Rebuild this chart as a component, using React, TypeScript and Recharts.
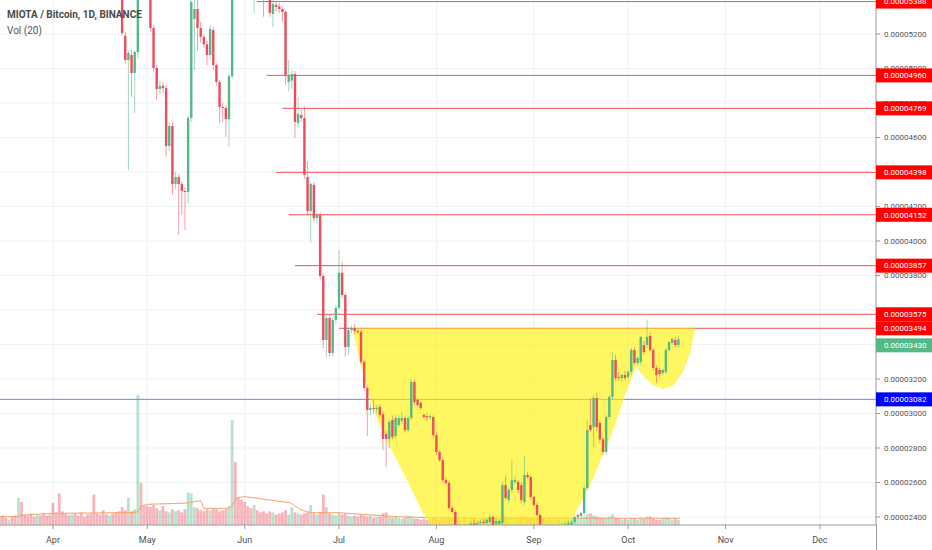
import React from "react";
import {
  ComposedChart,
  Bar,
  Area,
  Line,
  XAxis,
  YAxis,
  CartesianGrid,
  ReferenceLine,
} from "recharts";

// MIOTA / BTC daily, prices in satoshi (1e-8 BTC), day 0 = 1 Apr
const W = 932;
const H = 550;
const UP = "#53b987";
const DOWN = "#eb4d5c";

const DAY_MIN = -16.86;
const DAY_MAX = 261.85;
const PRICE_MIN = 2353.6;
const PRICE_MAX = 5397.1;

const monthTicks = [0, 30, 61, 91, 122, 153, 183, 214, 244];
const monthLabels = ["Apr", "May", "Jun", "Jul", "Aug", "Sep", "Oct", "Nov", "Dec"];
const priceTicks = [2400, 2600, 2800, 3000, 3200, 3400, 3600, 3800, 4000, 4200, 4400, 4600, 4800, 5000, 5200];

// candles from day 22 to day 199 (null = above the visible range)
const FIRST_CANDLE_DAY = 22;
const opens = [
  5430, 5190, 5049, 5078, 4974, 5096, null, null, null, 5450,
  5235, 5003, 4881, 4900, 4886, 4551, 4667, 4330, 4371, 4330,
  4290, 4284, 4713, 5287, 5345, 5235, 5183, 5140, 5078, 5223,
  5020, 4922, 4777, 4771, 4707, 4956, null, null, null, null,
  null, null, 5480, null, null, 5460, null, 5420, 5316, 5368,
  5360, 5345, 5328, 4922, 4930, 4968, 4684, 4730, 4713, 4371,
  4174, 4325, 4133, 4151, 3797, 3426, 3554, 3351, 3542, 3612,
  3815, 3687, 3386, 3484, 3496, 3478, 3473, 3299, 3148, 3020,
  3032, 3026, 3038, 2995, 2880, 2852, 2962, 2870, 2933, 2957,
  2974, 2904, 2974, 3183, 3078, 3061, 2991, 2985, 2978, 2980,
  2875, 2777, 2730, 2614, 2597, 2452, 2429, 2342, 2300, 2320,
  2310, 2335, 2362, 2350, 2365, 2371, 2365, 2371, 2400, 2360,
  2360, 2365, 2585, 2499, 2557, 2603, 2603, 2585, 2487, 2643,
  2632, 2516, 2470, 2412, 2342, 2290, 2310, 2285, 2300, 2320,
  2305, 2345, 2352, 2358, 2371, 2400, 2406, 2423, 2568, 2933,
  2922, 3090, 2945, 2850, 2777, 2980, 3096, 3310, 3212, 3206,
  3223, 3212, 3241, 3368, 3293, 3299, 3397, 3397, 3449, 3368,
  3264, 3252, 3235, 3241, 3368, 3409, 3426, 3397,
];
const highs = [
  5460, 5215, 5105, 5110, 5105, 5480, null, null, null, 5480,
  5250, 5020, 4930, 4920, 4905, 4690, 4690, 4400, 4390, 4345,
  4310, 4730, 5420, 5420, 5400, 5270, 5200, 5160, 5250, 5240,
  5030, 4935, 4800, 4785, 4970, 5450, null, null, null, null,
  null, null, 5550, null, null, 5490, null, 5440, 5397, 5390,
  5380, 5360, 5340, 5049, 4990, 4985, 4835, 4760, 4780, 4460,
  4345, 4340, 4165, 4165, 3810, 3570, 3570, 3560, 3630, 3948,
  3880, 3700, 3500, 3510, 3519, 3490, 3485, 3310, 3160, 3060,
  3080, 3050, 3050, 3010, 2900, 2965, 2990, 2990, 2990, 3010,
  2990, 2985, 3200, 3195, 3090, 3070, 3000, 3000, 2995, 2990,
  2890, 2790, 2745, 2630, 2610, 2465, 2440, 2360, 2340, 2345,
  2350, 2375, 2385, 2380, 2385, 2390, 2395, 2420, 2410, 2390,
  2385, 2600, 2640, 2570, 2730, 2640, 2615, 2600, 2750, 2660,
  2645, 2525, 2480, 2420, 2355, 2330, 2330, 2320, 2335, 2340,
  2365, 2370, 2380, 2380, 2410, 2420, 2430, 2580, 2960, 3090,
  3110, 3119, 2960, 2860, 2990, 3110, 3357, 3340, 3240, 3230,
  3250, 3250, 3380, 3385, 3330, 3450, 3420, 3545, 3470, 3380,
  3280, 3265, 3260, 3380, 3420, 3440, 3445, 3450,
];
const lows = [
  5190, 5030, 4412, 4835, 4742, 5060, null, null, null, 5215,
  4980, 4817, 4850, 4860, 4490, 4520, 4267, 4300, 4035, 4150,
  4064, 4220, 4690, 4990, 5100, 5150, 5120, 5020, 5050, 4990,
  4900, 4684, 4690, 4603, 4545, 4940, null, null, null, null,
  null, null, 5322, null, null, 5300, null, 5300, 5240, 5330,
  5320, 5270, 4904, 4870, 4880, 4597, 4660, 4690, 4360, 4150,
  3988, 4110, 4100, 3780, 3380, 3327, 3330, 3330, 3520, 3600,
  3670, 3330, 3340, 3465, 3460, 3460, 3285, 3130, 2870, 2990,
  3000, 3000, 2980, 2788, 2690, 2800, 2850, 2850, 2920, 2940,
  2890, 2890, 2960, 3050, 3040, 3020, 2970, 2960, 2965, 2860,
  2760, 2720, 2600, 2590, 2440, 2420, 2320, 2280, 2270, 2290,
  2290, 2320, 2340, 2330, 2350, 2355, 2350, 2360, 2330, 2340,
  2345, 2350, 2500, 2480, 2540, 2590, 2540, 2480, 2470, 2620,
  2505, 2460, 2400, 2330, 2270, 2270, 2260, 2270, 2285, 2290,
  2295, 2330, 2335, 2345, 2360, 2390, 2395, 2410, 2555, 2890,
  2806, 2900, 2830, 2759, 2760, 2965, 3080, 3190, 3190, 3180,
  3195, 3200, 3225, 3280, 3280, 3280, 3340, 3380, 3360, 3250,
  3177, 3215, 3220, 3230, 3355, 3400, 3385, 3380,
];
const closes = [
  5206, 5049, 5090, 4974, 5096, 5450, null, null, null, 5235,
  5003, 4881, 4900, 4886, 4551, 4667, 4330, 4371, 4330, 4290,
  4284, 4713, 5386, 5345, 5235, 5183, 5140, 5078, 5229, 5020,
  4922, 4777, 4771, 4707, 4956, 5420, null, null, null, null,
  null, null, 5500, null, null, 5410, null, 5322, 5374, 5357,
  5345, 5328, 4962, 4962, 4968, 4690, 4736, 4713, 4383, 4174,
  4330, 4133, 4151, 3797, 3426, 3554, 3351, 3542, 3612, 3815,
  3687, 3386, 3484, 3496, 3478, 3473, 3299, 3148, 3020, 3032,
  3026, 3032, 2991, 2852, 2852, 2951, 2864, 2974, 2974, 2974,
  2904, 2974, 3183, 3067, 3049, 3032, 2980, 2978, 2985, 2875,
  2777, 2730, 2614, 2597, 2452, 2429, 2342, 2300, 2320, 2310,
  2335, 2362, 2350, 2365, 2371, 2365, 2383, 2400, 2342, 2377,
  2377, 2585, 2510, 2557, 2614, 2614, 2557, 2499, 2643, 2632,
  2516, 2470, 2412, 2342, 2290, 2310, 2285, 2300, 2320, 2305,
  2345, 2352, 2365, 2371, 2400, 2412, 2423, 2568, 2904, 2904,
  3090, 2922, 2850, 2777, 2980, 3096, 3310, 3206, 3206, 3223,
  3206, 3241, 3368, 3293, 3322, 3444, 3357, 3444, 3368, 3264,
  3223, 3229, 3252, 3368, 3414, 3432, 3397, 3430,
];

// volume (millions) from day -17 (15 Mar) to day 199
const FIRST_VOL_DAY = -17;
const volumes = [
  0.8, 0.9, 0.7, 0.5, 0.8, 0.9, 2.6, 2.2, 1.0, 0.9,
  1.1, 0.8, 1.0, 0.9, 1.1, 0.9, 1.0, 2.1, 1.2, 3.0,
  1.3, 1.1, 0.9, 1.0, 1.1, 0.9, 1.2, 0.8, 1.0, 1.1,
  2.9, 1.1, 1.0, 1.4, 1.0, 0.9, 1.1, 1.2, 1.3, 1.7,
  1.4, 2.6, 1.3, 1.5, 12.4, 4.0, 1.9, 1.8, 1.7, 1.9,
  1.6, 1.4, 1.8, 1.3, 1.2, 1.5, 1.3, 1.4, 1.2, 1.5,
  3.1, 3.0, 1.7, 1.6, 1.4, 1.3, 1.5, 1.4, 1.6, 1.5,
  1.3, 1.4, 1.5, 1.8, 10.0, 6.0, 2.6, 2.4, 2.2, 1.8,
  1.6, 1.9, 1.4, 1.2, 1.3, 1.1, 1.3, 1.2, 1.0, 1.1,
  1.2, 1.4, 1.0, 1.7, 1.2, 1.1, 1.0, 1.1, 1.2, 1.9,
  1.1, 1.0, 1.2, 2.9, 1.7, 1.1, 1.0, 0.9, 1.2, 1.0,
  1.1, 0.9, 0.8, 0.9, 0.8, 1.0, 0.9, 0.8, 0.9, 0.7,
  0.8, 0.8, 1.1, 1.2, 0.8, 0.7, 0.8, 0.7, 0.6, 0.7,
  0.9, 0.8, 0.6, 0.6, 0.5, 0.6, 0.5, 0.6, 0.7, 0.6,
  0.5, 0.7, 0.6, 0.8, 0.7, 0.6, 0.6, 0.5, 0.6, 0.5,
  0.7, 0.6, 0.5, 0.6, 0.5, 0.6, 0.7, 0.8, 0.5, 0.6,
  0.9, 0.8, 0.7, 0.8, 0.6, 0.7, 0.7, 0.8, 0.6, 0.7,
  0.6, 0.7, 0.8, 0.6, 0.5, 0.6, 0.5, 0.6, 0.5, 0.6,
  0.5, 0.6, 0.6, 0.7, 0.6, 0.6, 0.8, 1.0, 1.1, 0.9,
  0.8, 0.7, 0.7, 0.6, 0.8, 1.0, 0.7, 0.6, 0.5, 0.6,
  0.5, 0.7, 0.6, 0.5, 0.7, 0.6, 0.8, 0.8, 0.6, 0.5,
  0.5, 0.6, 0.7, 0.6, 0.5, 0.6, 0.5,
];
// up days among candles that sit above the window
const hiddenUpDays = [-14, -11, -5, 6, 18];

// Vol (20) moving average
const maDays = [-16.9, -11, -10.5, 0, 24, 27, 28, 30, 42, 47, 48, 56, 57, 58.5, 61, 75.5, 79, 82, 91, 100, 110, 120, 132, 199.5];
const maValues = [0.79, 0.8, 0.93, 1.11, 1.18, 1.24, 1.78, 1.97, 2.08, 2.31, 1.59, 1.59, 1.9, 2.6, 2.7, 2.12, 1.43, 1.17, 1.17, 0.98, 0.79, 0.69, 0.64, 0.64];

// yellow cup-and-handle drawing: lower edge, top edge at CUP_TOP
const CUP_TOP = 3494;
const cupDays = [95.4, 96.4, 97.7, 99.3, 100.9, 104, 107.2, 112.6, 117.7, 120.6, 124.7, 142.2, 159.7, 163.5, 168.3, 170.9, 175.6, 178.8, 181.4, 183.6, 185.5, 186.8, 189, 190.9, 194.1, 197.3, 200.4, 202.7, 204.3];
const cupLows = [3494, 3397, 3299, 3194, 3078, 2933, 2806, 2615, 2423, 2342, 2180, 2035, 2180, 2325, 2499, 2586, 2788, 2933, 3078, 3183, 3275, 3241, 3194, 3165, 3142, 3159, 3241, 3351, 3494];

// horizontal levels (red rays) and where they start
const levelPrices = [5388, 4960, 4769, 4398, 4152, 3857, 3575, 3494];
const levelStarts = [64.8, 68, 73, 71, 75, 77, 84, 91];
const SUPPORT = 3082;
const LAST_PRICE = 3430;

// price-scale tags: value, background, vertical nudge in px
const tagPrices = [...levelPrices, LAST_PRICE, SUPPORT];
const tagColors = [...levelPrices.map(() => "#ff0000"), UP, "#0000ff"];
const tagShifts = [...levelPrices.map(() => 0), 6, 0];

const rows = volumes.map((vol, i) => {
  const d = FIRST_VOL_DAY + i;
  const k = d - FIRST_CANDLE_DAY;
  const inRange = k >= 0 && k < opens.length;
  const o = inRange ? opens[k] : null;
  const h = inRange ? highs[k] : null;
  const l = inRange ? lows[k] : null;
  const c = inRange ? closes[k] : null;
  const up = o != null && c != null ? c >= o : hiddenUpDays.includes(d);
  return { d, o, h, l, c, vol, up };
});

const maData = maDays.map((d, i) => ({ d, ma: maValues[i] }));
const cupData = cupDays.map((d, i) => ({ d, band: [cupLows[i], CUP_TOP] }));

const fmt = (p: number) => (p / 1e8).toFixed(8);
const FONT = "Roboto, 'Noto Sans', sans-serif";

function Candle(props: any) {
  const { x, y, width, height, payload } = props;
  if (!payload || payload.o == null || payload.h == null) return null;
  const top = Math.min(y, y + height);
  const bot = Math.max(y, y + height);
  const k = (bot - top) / (payload.h - payload.l);
  const py = (v: number) => top + (payload.h - v) * k;
  const cx = x + width / 2;
  const color = payload.c >= payload.o ? UP : DOWN;
  const yo = py(payload.o);
  const yc = py(payload.c);
  const bt = Math.min(yo, yc);
  const bh = Math.max(1, Math.abs(yo - yc));
  return (
    <g>
      <rect x={cx - 0.5} y={top} width={1} height={bot - top} fill={color} opacity={0.55} />
      <rect x={cx - 1.2} y={bt} width={2.4} height={bh} fill={color} />
    </g>
  );
}

function VolBar(props: any) {
  const { x, y, width, height, payload } = props;
  if (!payload || !height) return null;
  const cx = x + width / 2;
  return (
    <rect
      x={cx - 1.4}
      y={Math.min(y, y + height)}
      width={2.8}
      height={Math.abs(height)}
      fill={payload.up ? UP : DOWN}
      fillOpacity={0.42}
    />
  );
}

// gray scale labels first, coloured tags after so they sit on top
function PriceTick(props: any) {
  const { x, y, payload } = props;
  const t = tagPrices.indexOf(payload.value);
  if (t < 0) {
    return (
      <text x={x + 2} y={y} dy="0.35em" fill="#555555" fontSize={8} fontFamily={FONT} textAnchor="start">
        {fmt(payload.value)}
      </text>
    );
  }
  const left = x - 6;
  const cy = y + tagShifts[t];
  return (
    <g>
      <rect x={left} y={cy - 7} width={W - left} height={14} fill={tagColors[t]} />
      <text x={x + 2} y={cy} dy="0.35em" fill="#ffffff" fontSize={8} fontFamily={FONT} textAnchor="start">
        {fmt(payload.value)}
      </text>
    </g>
  );
}

function MonthTick(props: any) {
  const { x, y, payload } = props;
  const i = monthTicks.indexOf(payload.value);
  return (
    <text x={x} y={y + 12} fill="#4f4f4f" fontSize={9} fontFamily={FONT} textAnchor="middle">
      {monthLabels[i]}
    </text>
  );
}

export default function App() {
  return (
    <div style={{ position: "absolute", left: 0, top: 0, width: W, height: H, background: "#ffffff", overflow: "hidden" }}>
      <ComposedChart width={W} height={H} data={rows} margin={{ top: 0, right: 0, bottom: 0, left: 0 }}>
        <CartesianGrid
          xAxisId="main"
          yAxisId="price"
          stroke="#eef1f6"
          horizontalValues={priceTicks}
          verticalValues={monthTicks}
        />
        <XAxis
          xAxisId="main"
          dataKey="d"
          type="number"
          domain={[DAY_MIN, DAY_MAX]}
          allowDataOverflow
          ticks={monthTicks}
          interval={0}
          height={25}
          tickSize={4}
          tickLine={{ stroke: "#999999" }}
          axisLine={{ stroke: "#999999" }}
          tick={<MonthTick />}
        />
        <XAxis xAxisId="vol" dataKey="d" type="number" domain={[DAY_MIN, DAY_MAX]} allowDataOverflow hide />
        <YAxis
          yAxisId="price"
          orientation="right"
          width={56}
          type="number"
          domain={[PRICE_MIN, PRICE_MAX]}
          allowDataOverflow
          ticks={[...priceTicks, ...tagPrices]}
          interval={0}
          tickSize={4}
          tickLine={{ stroke: "#999999" }}
          axisLine={{ stroke: "#999999" }}
          tick={<PriceTick />}
        />
        <YAxis yAxisId="vol" type="number" domain={[0, 50]} allowDataOverflow hide />

        <Bar
          xAxisId="vol"
          yAxisId="vol"
          dataKey="vol"
          barSize={3}
          shape={(p: any) => <VolBar {...p} />}
          isAnimationActive={false}
          zIndex={50}
        />
        <Line
          xAxisId="vol"
          yAxisId="vol"
          data={maData}
          dataKey="ma"
          type="linear"
          stroke="#f5a26c"
          strokeWidth={1}
          dot={false}
          activeDot={false}
          isAnimationActive={false}
          zIndex={60}
        />

        {levelPrices.map((p, i) => (
          <ReferenceLine
            key={p}
            xAxisId="main"
            yAxisId="price"
            segment={[{ x: levelStarts[i], y: p }, { x: DAY_MAX, y: p }]}
            stroke="#ef5350"
            strokeWidth={1}
            ifOverflow="visible"
            zIndex={70}
          />
        ))}
        <ReferenceLine
          xAxisId="main"
          yAxisId="price"
          y={SUPPORT}
          stroke="#7a7af2"
          strokeWidth={1}
          zIndex={70}
        />

        <Area
          xAxisId="main"
          yAxisId="price"
          data={cupData}
          dataKey="band"
          type="linear"
          stroke="none"
          fill="#fff200"
          fillOpacity={0.62}
          dot={false}
          activeDot={false}
          isAnimationActive={false}
          zIndex={100}
        />

        <Bar
          xAxisId="main"
          yAxisId="price"
          dataKey={(r: any) => (r.o == null ? null : [r.l, r.h])}
          barSize={3}
          shape={(p: any) => <Candle {...p} />}
          isAnimationActive={false}
          zIndex={300}
        />
      </ComposedChart>

      <div style={{ position: "absolute", left: 876, top: 525, width: 1, height: 25, background: "#999999" }} />
      <div style={{ position: "absolute", left: 7, top: 9, fontFamily: FONT, fontSize: 10, fontWeight: 700, color: "#4a4a4a", lineHeight: "12px", whiteSpace: "nowrap" }}>
        MIOTA / Bitcoin, 1D, BINANCE
      </div>
      <div style={{ position: "absolute", left: 7, top: 25, fontFamily: FONT, fontSize: 10, color: "#555555", lineHeight: "12px", whiteSpace: "nowrap" }}>
        Vol (20)
      </div>
    </div>
  );
}
